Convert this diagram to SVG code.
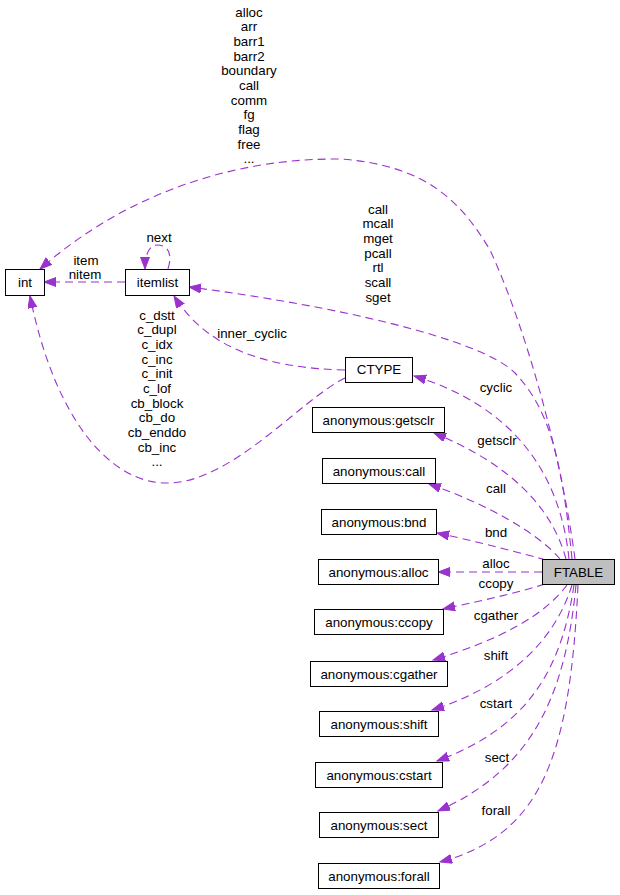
<svg xmlns="http://www.w3.org/2000/svg" width="620" height="895" viewBox="0 0 620 895">
<style>
text{font-family:"Liberation Sans",Arial,Helvetica,sans-serif;font-size:13.33px;fill:#000;text-anchor:middle}
.n rect{fill:#fff;stroke:#000;stroke-width:1}
.n.main rect{fill:#bfbfbf}
.e path{fill:none;stroke:#9a32cd;stroke-width:1.1;stroke-dasharray:8,5;marker-end:url(#ah)}
</style>
<defs>
<marker id="ah" markerUnits="userSpaceOnUse" markerWidth="13" markerHeight="10" refX="12" refY="4.5" orient="auto">
<path d="M0,0 L12,4.5 L0,9 z" fill="#9a32cd" stroke="#9a32cd" stroke-width="1"/>
</marker>
</defs>
<rect width="620" height="895" fill="#fff"/>
<g id="edges" class="e">
<path d="M125,282 L44,282"/>
<path d="M168,269 C172,256 170,245 157,245 C149,245 145,255 145,269"/>
<path d="M575,559 C562,460 527,330 490,250 C460,200 425,165 340,159 C240,158 130,190 40,269"/>
<path d="M572,559 C562,460 550,410 515,373 C480,338 330,305 189,287"/>
<path d="M345,370 C260,368 205,345 174,296"/>
<path d="M345,378 C300,400 230,485 165,483 C110,482 55,420 30,296"/>
<path d="M569,559 C560,470 510,405 414,376"/>
<path d="M566,559 C550,500 500,460 434,433"/>
<path d="M560,559 C540,535 490,505 429,484"/>
<path d="M546,560 C510,550 470,540 437,533"/>
<path d="M542,572 L438,572"/>
<path d="M545,584 C510,595 475,602 443,609"/>
<path d="M567,585 C545,615 500,640 433,660"/>
<path d="M572,585 C555,640 510,685 432,710"/>
<path d="M574,585 C560,680 520,730 437,761"/>
<path d="M576,585 C565,700 530,770 438,811"/>
<path d="M578,585 C570,760 540,835 440,862"/>
</g>
<g id="edge-labels">
<text x="249" y="16.5">alloc</text>
<text x="249" y="31.2">arr</text>
<text x="249" y="45.8">barr1</text>
<text x="249" y="60.5">barr2</text>
<text x="249" y="75.2">boundary</text>
<text x="249" y="89.8">call</text>
<text x="249" y="104.5">comm</text>
<text x="249" y="119.2">fg</text>
<text x="249" y="133.8">flag</text>
<text x="249" y="148.5">free</text>
<text x="249" y="163">...</text>
<text x="378" y="213.5">call</text>
<text x="378" y="228.2">mcall</text>
<text x="378" y="242.8">mget</text>
<text x="378" y="257.5">pcall</text>
<text x="378" y="272.2">rtl</text>
<text x="378" y="286.8">scall</text>
<text x="378" y="301.5">sget</text>
<text x="159" y="241.5">next</text>
<text x="86" y="264.5">item</text>
<text x="85" y="279.2">nitem</text>
<text x="157" y="319.5">c_dstt</text>
<text x="157" y="334.2">c_dupl</text>
<text x="157" y="348.8">c_idx</text>
<text x="157" y="363.5">c_inc</text>
<text x="157" y="378.2">c_init</text>
<text x="157" y="392.8">c_lof</text>
<text x="157" y="407.5">cb_block</text>
<text x="157" y="422.2">cb_do</text>
<text x="157" y="436.8">cb_enddo</text>
<text x="157" y="451.5">cb_inc</text>
<text x="157" y="466">...</text>
<text x="252" y="337.5">inner_cyclic</text>
<text x="496" y="391.5">cyclic</text>
<text x="497" y="444.5">getsclr</text>
<text x="496" y="492.5">call</text>
<text x="496" y="536.5">bnd</text>
<text x="496" y="567.5">alloc</text>
<text x="496" y="587.5">ccopy</text>
<text x="496" y="619.5">cgather</text>
<text x="496" y="659.5">shift</text>
<text x="496" y="707.5">cstart</text>
<text x="497" y="761.5">sect</text>
<text x="496" y="814.5">forall</text>
</g>
<g id="int" class="n"><rect x="5.5" y="269.5" width="39" height="26"/><text x="25" y="287">int</text></g>
<g id="itemlist" class="n"><rect x="125.5" y="269.5" width="64" height="26"/><text x="157.5" y="287">itemlist</text></g>
<g id="CTYPE" class="n"><rect x="345.5" y="357.5" width="67" height="25"/><text x="379" y="374">CTYPE</text></g>
<g id="getsclr" class="n"><rect x="312.5" y="407.5" width="132" height="25"/><text x="378.5" y="424.5">anonymous:getsclr</text></g>
<g id="call" class="n"><rect x="322.5" y="458.5" width="113" height="25"/><text x="379" y="475.5">anonymous:call</text></g>
<g id="bnd" class="n"><rect x="321.5" y="509.5" width="115" height="25"/><text x="379" y="526.5">anonymous:bnd</text></g>
<g id="alloc" class="n"><rect x="318.5" y="559.5" width="120" height="25"/><text x="378.5" y="576.5">anonymous:alloc</text></g>
<g id="FTABLE" class="n main"><rect x="542.5" y="559.5" width="72" height="25"/><text x="578.5" y="576.5">FTABLE</text></g>
<g id="ccopy" class="n"><rect x="314.5" y="609.5" width="129" height="25"/><text x="379" y="626.5">anonymous:ccopy</text></g>
<g id="cgather" class="n"><rect x="310.5" y="661.5" width="137" height="25"/><text x="379" y="678.5">anonymous:cgather</text></g>
<g id="shift" class="n"><rect x="319.5" y="711.5" width="119" height="25"/><text x="379" y="728.5">anonymous:shift</text></g>
<g id="cstart" class="n"><rect x="315.5" y="762.5" width="127" height="25"/><text x="379" y="779.5">anonymous:cstart</text></g>
<g id="sect" class="n"><rect x="319.5" y="812.5" width="119" height="25"/><text x="379" y="829.5">anonymous:sect</text></g>
<g id="forall" class="n"><rect x="318.5" y="863.5" width="121" height="25"/><text x="379" y="880.5">anonymous:forall</text></g>
</svg>
